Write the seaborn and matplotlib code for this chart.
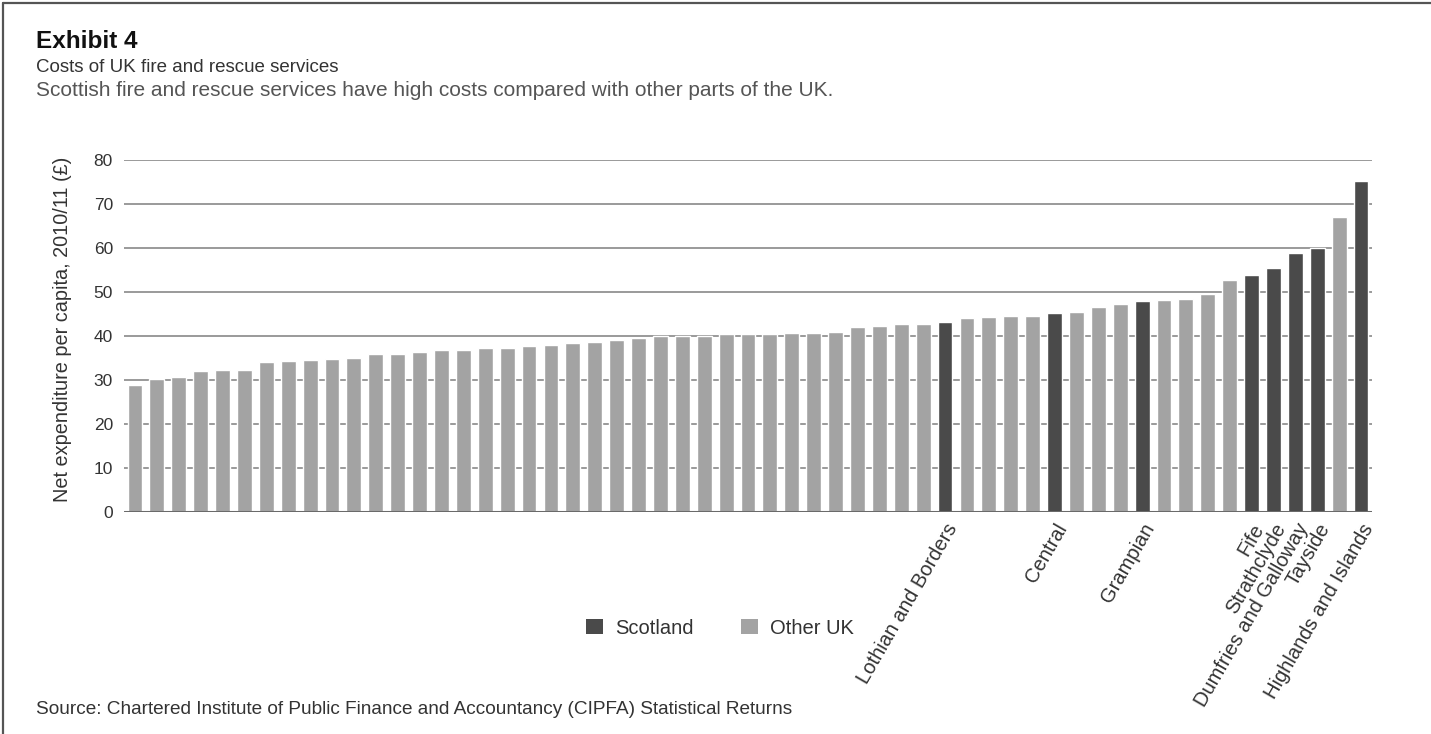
import matplotlib
matplotlib.use("Agg")
import matplotlib.pyplot as plt
from matplotlib.lines import Line2D
from matplotlib.patches import Patch
import seaborn as sns
import pandas as pd

# Net expenditure per capita, 2010/11 (£), sorted ascending
spend = [28.9, 30.2, 30.6, 32.0, 32.3, 32.3, 34.1, 34.3, 34.5, 34.8,
         35.0, 35.9, 35.9, 36.4, 36.8, 36.8, 37.3, 37.3, 37.7, 38.0,
         38.4, 38.6, 39.1, 39.5, 40.0, 40.0, 40.0, 40.5, 40.5, 40.5,
         40.7, 40.7, 40.9, 42.0, 42.3, 42.7, 42.7, 43.2, 44.1, 44.3,
         44.5, 44.5, 45.2, 45.5, 46.6, 47.3, 48.0, 48.2, 48.4, 49.5,
         52.7, 53.8, 55.4, 58.8, 59.9, 67.0, 75.2]

# Scottish services, by position in the sorted list
scottish = {37: "Lothian and Borders", 42: "Central", 46: "Grampian",
            51: "Fife", 52: "Strathclyde", 53: "Dumfries and Galloway",
            54: "Tayside", 56: "Highlands and Islands"}

groups = ["Scotland", "Other UK"]
colors = {"Scotland": "#4a4a4a", "Other UK": "#a3a3a3"}
y_ticks = [0, 10, 20, 30, 40, 50, 60, 70, 80]

df = pd.DataFrame({
    "pos": list(range(len(spend))),
    "spend": spend,
    "group": ["Scotland" if i in scottish else "Other UK" for i in range(len(spend))],
})
tick_labels = [scottish.get(i, "") for i in range(len(spend))]

sns.set_style("white")
plt.rcParams["font.family"] = ["Liberation Sans", "DejaVu Sans"]

fig = plt.figure(figsize=(14.31, 7.34), dpi=100)
ax = fig.add_axes([124 / 1431, 1 - 512 / 734, 1248 / 1431, 352 / 734])

sns.barplot(data=df, x="pos", y="spend", hue="group", hue_order=groups,
            palette=colors, dodge=False, width=0.68, saturation=1,
            legend=False, ax=ax, zorder=2)

ax.set_xlim(-0.5, len(spend) - 0.5)
ax.set_ylim(0, 80)
ax.set_yticks(y_ticks)
ax.set_yticklabels([str(t) for t in y_ticks], fontsize=12.5, color="#333333")
ax.tick_params(axis="y", length=0, pad=8)
ax.set_xticks(range(len(spend)))
ax.set_xticklabels(tick_labels, rotation=60, ha="right", rotation_mode="anchor",
                   fontsize=14.5, color="#333333")
ax.tick_params(axis="x", length=0, pad=6)
ax.set_xlabel("")
ax.set_ylabel("Net expenditure per capita, 2010/11 (£)", fontsize=14.3,
              color="#333333")
ax.yaxis.set_label_coords(-0.042, 0.52)

for t in y_ticks[1:]:
    ax.axhline(t, color="#9a9a9a", lw=1.4, zorder=1)
ax.axhline(0, color="#6a6a6a", lw=2.2, zorder=3)
for s in ax.spines.values():
    s.set_visible(False)

handles = [Patch(facecolor=colors[g], edgecolor="none") for g in groups]
fig.legend(handles, groups, loc="center", bbox_to_anchor=(720 / 1431, 1 - 628 / 734),
           ncol=2, frameon=False, fontsize=14.5, handlelength=0.8, handleheight=0.8,
           columnspacing=2.4, handletextpad=0.6, labelcolor="#333333")

fig.text(36 / 1431, 1 - 41 / 734, "Exhibit 4", fontsize=17.5, fontweight="bold",
         color="#111111", va="center", ha="left")
fig.text(36 / 1431, 1 - 67 / 734, "Costs of UK fire and rescue services",
         fontsize=13.5, color="#333333", va="center", ha="left")
fig.text(36 / 1431, 1 - 91 / 734,
         "Scottish fire and rescue services have high costs compared with other parts of the UK.",
         fontsize=15, color="#555555", va="center", ha="left")
fig.text(36 / 1431, 1 - 709 / 734,
         "Source: Chartered Institute of Public Finance and Accountancy (CIPFA) Statistical Returns",
         fontsize=13.7, color="#333333", va="center", ha="left")

# Frame along the top and left edges
fig.add_artist(Line2D([3 / 1431, 1], [1 - 3 / 734, 1 - 3 / 734], color="#555555",
                      lw=1.6, transform=fig.transFigure))
fig.add_artist(Line2D([3 / 1431, 3 / 1431], [0, 1 - 3 / 734], color="#555555",
                      lw=1.6, transform=fig.transFigure))

fig.savefig("out.png", dpi=100, facecolor="white")
